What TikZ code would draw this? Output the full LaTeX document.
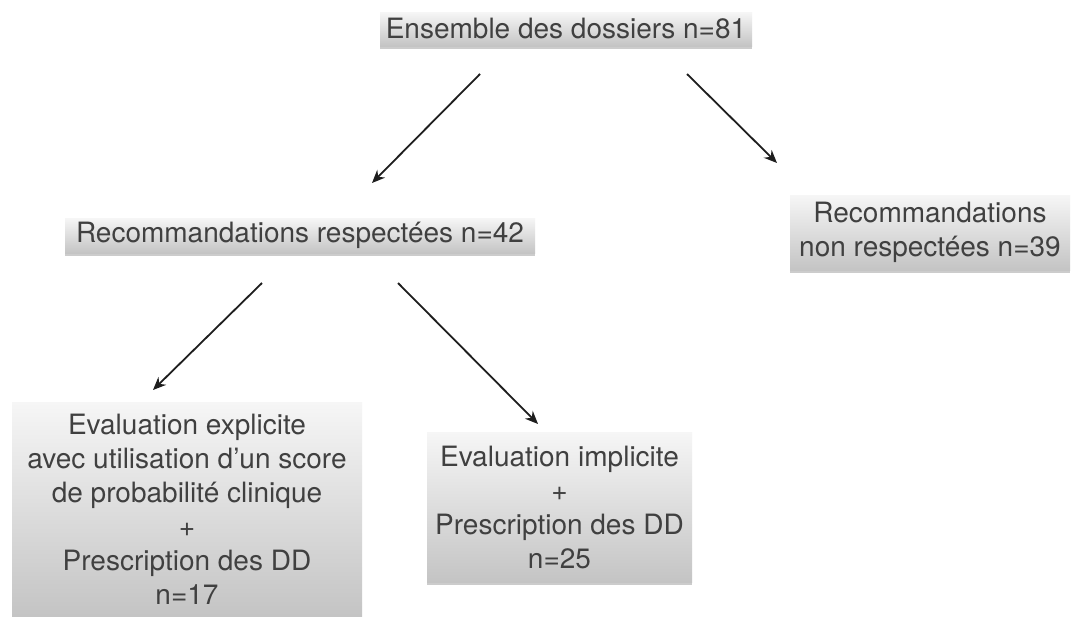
\documentclass[tikz,border=0pt]{standalone}
\usepackage{fontspec}
\setmainfont{TeX Gyre Heros}
\usetikzlibrary{shadows,arrows.meta}
\definecolor{txt}{HTML}{404040}
\definecolor{boxtop}{HTML}{F6F6F6}
\definecolor{boxbot}{HTML}{C4C4C4}
\definecolor{arrowc}{HTML}{1E1E1E}
\begin{document}
\begin{tikzpicture}[x=1pt,y=-1pt,
  box/.style={inner sep=0pt, align=center, top color=boxtop, bottom color=boxbot,
    text=txt, font=\fontsize{28}{34}\selectfont,
    drop shadow={shadow xshift=0pt, shadow yshift=-3pt, opacity=0.2, fill=black}},
  arr/.style={-{Stealth[length=13pt,width=11pt]}, line width=1.8pt, draw=arrowc}]
\useasboundingbox[fill=white] (0,0) rectangle (1073,616);
\node[box, minimum width=372pt, minimum height=34pt] (A) at (566,29) {Ensemble des dossiers n=81};
\node[box, minimum width=470pt, minimum height=35pt] (B) at (300,235.5) {Recommandations respectées n=42};
\node[box, minimum width=280pt, minimum height=75pt] (C) at (930,232.5) {Recommandations\\non respectées n=39};
\node[box, minimum width=350pt, minimum height=214pt] (D) at (187,509) {Evaluation explicite\\avec utilisation d'un score\\de probabilité clinique\\+\\Prescription des DD\\n=17};
\node[box, minimum width=265pt, minimum height=150pt] (E) at (559.5,507) {Evaluation implicite\\+\\Prescription des DD\\n=25};
\coordinate (a1s) at (480,74);
\coordinate (a1e) at (372,183);
\coordinate (a2s) at (687,74);
\coordinate (a2e) at (777,163);
\coordinate (a3s) at (262,283);
\coordinate (a3e) at (153,390);
\coordinate (a4s) at (398,283);
\coordinate (a4e) at (538,424);
\draw[arr] (a1s) -- (a1e);
\draw[arr] (a2s) -- (a2e);
\draw[arr] (a3s) -- (a3e);
\draw[arr] (a4s) -- (a4e);
\end{tikzpicture}
\end{document}
